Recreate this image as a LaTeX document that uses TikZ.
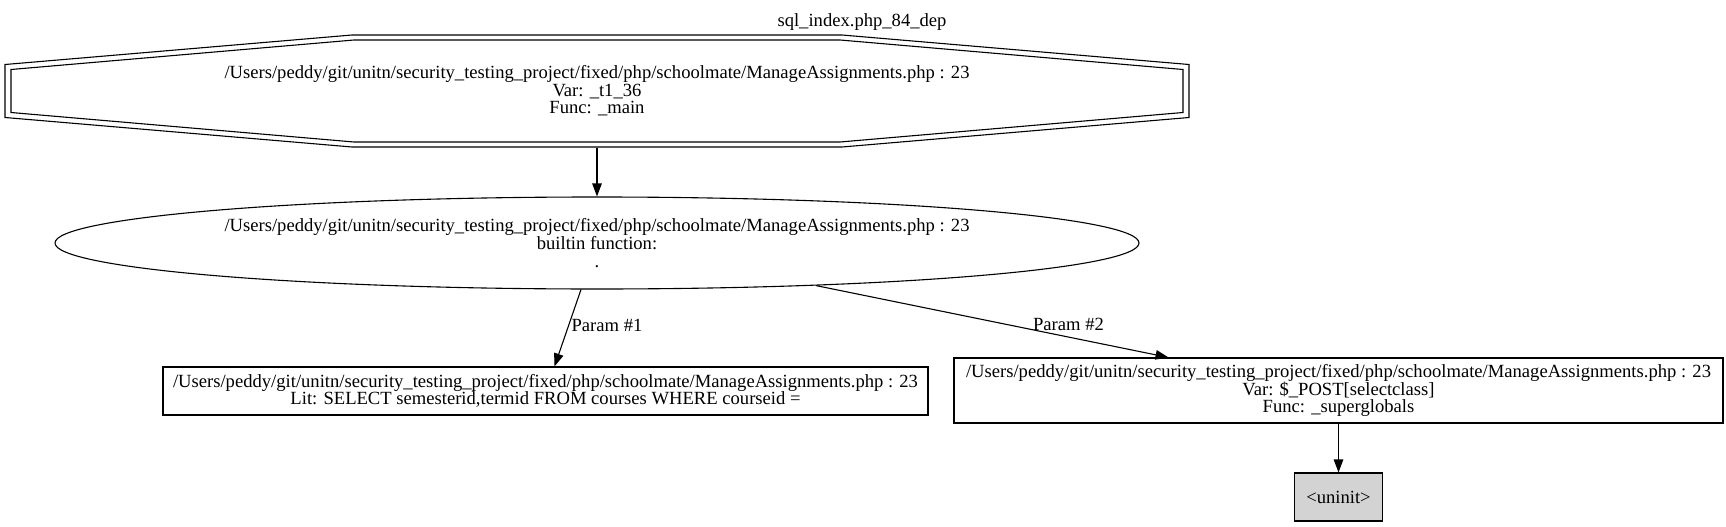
\documentclass[tikz,border=0pt]{standalone}
\usepackage{fontspec}
\setmainfont{Liberation Serif}
\usetikzlibrary{shapes.geometric,arrows.meta,calc}

\definecolor{uninitgray}{HTML}{D3D3D3}
\newcommand{\dotfont}{\fontsize{18.6}{17.6}\selectfont}
\newcommand{\srcfile}{/Users/peddy/git/unitn/security\_testing\_project/fixed/php/schoolmate/ManageAssignments.php : 23}

\begin{document}
\begin{tikzpicture}[x=1pt,y=-1pt,line width=1.1pt,
    every node/.style={font=\dotfont,align=center,inner sep=0pt},
    box/.style={draw,rectangle},
    edge/.style={-{Triangle[length=13pt,width=9.5pt]}}]

  \useasboundingbox (0,0) rectangle (1726,527);

  \node (title) at (862,22) {sql\_index.php\_84\_dep};

  % double octagon
  \node[minimum width=1184pt,minimum height=112pt] (oct) at (597,91)
    {\srcfile\\Var: \_t1\_36\\Func: \_main};
  \begin{scope}[shift={(oct.center)}]
    \draw (-245,-56) -- (245,-56) -- (592,-26.5) -- (592,26.5) -- (245,56)
      -- (-245,56) -- (-592,26.5) -- (-592,-26.5) -- cycle;
    \draw (-243,-51) -- (243,-51) -- (586,-21.5) -- (586,21.5) -- (243,51)
      -- (-243,51) -- (-586,21.5) -- (-586,-21.5) -- cycle;
  \end{scope}

  % builtin call
  \node[draw,ellipse,minimum width=1084pt,minimum height=92pt] (ell) at (597,243)
    {\srcfile\\builtin function:\\.};

  % params
  \node[box,minimum width=765pt,minimum height=48pt] (lit) at (545.5,391)
    {\srcfile\\Lit: SELECT semesterid,termid FROM courses WHERE courseid =};
  \node[box,minimum width=769pt,minimum height=65pt] (var) at (1338.5,390.5)
    {\srcfile\\Var: \$\_POST[selectclass]\\Func: \_superglobals};
  \node[box,fill=uninitgray,minimum width=88pt,minimum height=48pt] (uninit) at (1338.5,497)
    {<uninit>};

  %edges
  \draw[edge] (oct.south) -- (ell);
  \draw[edge] (ell.251) -- ($(lit.north)+(9,0)$);
  \draw[edge] (ell.349) -- ($(var.north)+(-170,0)$);
  \draw[edge] (var) -- (uninit);

  \node (p1) at (607,325) {Param \#1};
  \node (p2) at (1068.5,324) {Param \#2};

\end{tikzpicture}
\end{document}
